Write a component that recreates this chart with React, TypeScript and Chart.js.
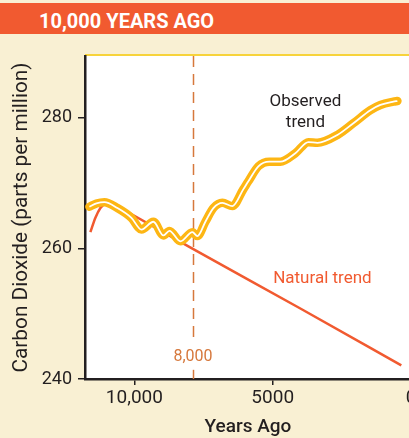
import React, { useEffect, useRef } from "react";
import { Chart, registerables } from "chart.js";

Chart.register(...registerables);

// ---- text ----
const HEADER = "10,000 YEARS AGO";
const X_TITLE = "Years Ago";
const Y_TITLE = "Carbon Dioxide (parts per million)";
const OBS_LABEL = ["Observed", "trend"];
const NAT_LABEL = "Natural trend";
const MARK_LABEL = "8,000";

// ---- axes ----
const X_TICKS = [10000, 5000, 0];
const X_TICK_LABELS = ["10,000", "5000", "0"];
const Y_TICKS = [240, 260, 280];
const X_MIN = 0;
const X_MAX = 11786;
const Y_MIN = 240;
const Y_MAX = 289.5;

// ---- data (years ago, ppm) ----
const OBS_YEARS = [11626, 11373, 11084, 10614, 10108, 9746, 9313, 8951, 8734, 8336, 7903, 7722, 7433, 7144, 6818, 6457, 6059, 5879, 5517, 5120, 4722, 4180, 3709, 3384, 2661, 2082, 1468, 1106, 636, 492];
const OBS_PPM = [266.4, 266.9, 267.1, 266.2, 264.7, 262.9, 264.1, 262.0, 262.7, 261.1, 262.5, 261.9, 264.1, 266.2, 267.0, 266.5, 269.1, 270.3, 272.6, 273.3, 273.3, 274.6, 276.3, 276.2, 277.4, 279.2, 281.2, 282.0, 282.5, 282.6];
const NAT_YEARS = [11591, 11410, 11229, 11012, 10868, 10500, 8000, 4000, 350];
const NAT_PPM = [262.5, 264.7, 266.2, 267.0, 267.1, 266.2, 260.2, 250.8, 242.1];

// ---- annotation anchors (data coords) ----
const MARK_YEAR = 7880;
const MARK_LABEL_PPM = 243.4;
const OBS_LABEL_POS = { year: 3818, ppm: [282.45, 279.2] };
const NAT_LABEL_POS = { year: 3203, ppm: 255.3 };

const DARK = "#231F20";
const ORANGE = "#F15A30";
const GOLD = "#FDB614";
const CREAM = "#F9F0D3";
const MARK = "#D6783C";
const FONT = "Roboto";

const decoPlugin = {
  id: "deco",
  beforeDraw(chart: any) {
    const { ctx, chartArea: a, width } = chart;
    ctx.save();
    ctx.fillStyle = "#FFFFFF";
    ctx.fillRect(a.left, a.top, width - a.left, a.bottom - a.top);
    ctx.fillStyle = "#F7D33B";
    ctx.fillRect(a.left, a.top - 2, width - a.left, 2);
    ctx.restore();
  },
  beforeDatasetsDraw(chart: any) {
    const { ctx, chartArea: a, scales } = chart;
    const x = Math.round(scales.x.getPixelForValue(MARK_YEAR)) + 0.5;
    const ly = scales.y.getPixelForValue(MARK_LABEL_PPM);
    ctx.save();
    ctx.strokeStyle = MARK;
    ctx.lineWidth = 1.5;
    ctx.setLineDash([11, 7]);
    ctx.beginPath();
    ctx.moveTo(x, a.top);
    ctx.lineTo(x, ly - 14);
    ctx.stroke();
    ctx.beginPath();
    ctx.moveTo(x, a.bottom);
    ctx.lineTo(x, ly + 13);
    ctx.stroke();
    ctx.restore();
  },
  afterDatasetsDraw(chart: any) {
    const { ctx, scales } = chart;
    const xs = scales.x;
    const ys = scales.y;
    ctx.save();
    ctx.textAlign = "center";
    ctx.textBaseline = "middle";
    ctx.fillStyle = MARK;
    ctx.font = `16px ${FONT}`;
    ctx.fillText(MARK_LABEL, xs.getPixelForValue(MARK_YEAR), ys.getPixelForValue(MARK_LABEL_PPM));
    ctx.fillStyle = ORANGE;
    ctx.font = `17px ${FONT}`;
    ctx.fillText(NAT_LABEL, xs.getPixelForValue(NAT_LABEL_POS.year), ys.getPixelForValue(NAT_LABEL_POS.ppm));
    ctx.fillStyle = DARK;
    OBS_LABEL.forEach((t, i) => {
      ctx.fillText(t, xs.getPixelForValue(OBS_LABEL_POS.year), ys.getPixelForValue(OBS_LABEL_POS.ppm[i]));
    });
    ctx.restore();
  },
};

export default function App() {
  const ref = useRef<HTMLCanvasElement | null>(null);

  useEffect(() => {
    if (!ref.current) return;
    const obs = OBS_YEARS.map((y, i) => ({ x: y, y: OBS_PPM[i] }));
    const nat = NAT_YEARS.map((y, i) => ({ x: y, y: NAT_PPM[i] }));
    const chart = new Chart(ref.current, {
      type: "line",
      data: {
        datasets: [
          {
            label: "Natural trend",
            data: nat,
            borderColor: ORANGE,
            borderWidth: 2.5,
            pointRadius: 0,
            cubicInterpolationMode: "monotone",
            order: 3,
          },
          {
            label: "Observed trend",
            data: obs,
            borderColor: GOLD,
            borderWidth: 8.5,
            borderCapStyle: "round",
            borderJoinStyle: "round",
            pointRadius: 0,
            cubicInterpolationMode: "monotone",
            order: 2,
          },
          {
            label: "Observed trend (inner)",
            data: obs,
            borderColor: "#FFFFFF",
            borderWidth: 1.8,
            borderJoinStyle: "round",
            pointRadius: 0,
            cubicInterpolationMode: "monotone",
            order: 1,
          },
        ],
      } as any,
      options: {
        animation: false,
        responsive: false,
        devicePixelRatio: 1,
        parsing: false,
        layout: { padding: { top: 56, right: 19, left: 0, bottom: 0 } },
        plugins: { legend: { display: false }, tooltip: { enabled: false } },
        scales: {
          x: {
            type: "linear",
            reverse: true,
            min: X_MIN,
            max: X_MAX,
            afterBuildTicks: (s: any) => {
              s.ticks = X_TICKS.map((v) => ({ value: v }));
            },
            afterFit: (s: any) => {
              s.height = 59;
            },
            ticks: {
              maxRotation: 0,
              autoSkip: false,
              padding: 2,
              color: DARK,
              font: { family: FONT, size: 19 },
              callback: (v: any) => X_TICK_LABELS[X_TICKS.indexOf(Number(v))] ?? "",
            },
            grid: { drawOnChartArea: false, drawTicks: true, tickLength: 6, color: DARK, lineWidth: 1.5 },
            border: { display: true, color: DARK, width: 2.5 },
            title: {
              display: true,
              text: X_TITLE,
              color: DARK,
              font: { family: FONT, size: 19, weight: "500", lineHeight: 1 },
              padding: { top: 0, bottom: 1 },
            },
          },
          y: {
            type: "linear",
            min: Y_MIN,
            max: Y_MAX,
            afterBuildTicks: (s: any) => {
              s.ticks = Y_TICKS.map((v) => ({ value: v }));
            },
            afterFit: (s: any) => {
              s.width = 85;
            },
            ticks: {
              padding: 6,
              color: DARK,
              font: { family: FONT, size: 18 },
            },
            grid: { drawOnChartArea: false, drawTicks: true, tickLength: 7, color: DARK, lineWidth: 1.5 },
            border: { display: true, color: DARK, width: 2.5 },
            title: {
              display: true,
              text: Y_TITLE,
              color: DARK,
              font: { family: FONT, size: 20.8 },
              padding: { top: 9.5, bottom: 0 },
            },
          },
        },
      } as any,
      plugins: [decoPlugin],
    });
    return () => chart.destroy();
  }, []);

  return (
    <div
      style={{
        position: "fixed",
        left: 0,
        top: 0,
        width: 409,
        height: 438,
        overflow: "hidden",
        background: CREAM,
      }}
    >
      <div
        style={{
          position: "absolute",
          left: 0,
          top: 3,
          width: 409,
          height: 31,
          background: ORANGE,
        }}
      />
      <span
        style={{
          position: "absolute",
          left: 39,
          top: 11,
          lineHeight: "20px",
          fontFamily: FONT,
          fontWeight: 700,
          fontSize: 20,
          color: "#FFFFFF",
          whiteSpace: "nowrap",
        }}
      >
        {HEADER}
      </span>
      <canvas
        ref={ref}
        width={430}
        height={438}
        style={{ position: "absolute", left: 0, top: 0, width: 430, height: 438, display: "block" }}
      />
    </div>
  );
}
